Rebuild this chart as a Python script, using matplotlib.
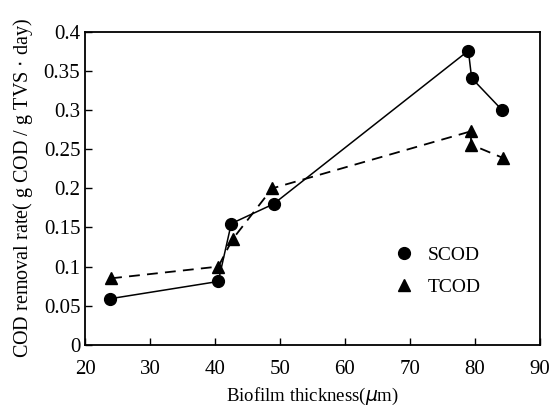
import matplotlib
matplotlib.use('Agg')
import matplotlib.pyplot as plt
from matplotlib.lines import Line2D

plt.rcParams['font.family'] = ['Liberation Serif', 'DejaVu Serif']

# SCOD series
scod_x = [23.9, 40.5, 42.5, 49.0, 79.0, 79.5, 84.2]
scod_y = [0.059, 0.081, 0.155, 0.180, 0.376, 0.341, 0.300]

# TCOD series
tcod_x = [24.0, 40.5, 42.7, 48.8, 79.4, 79.4, 84.3]
tcod_y = [0.085, 0.100, 0.135, 0.200, 0.273, 0.256, 0.239]

fig = plt.figure(figsize=(5.6, 4.2), dpi=100)
ax = fig.add_axes([0.152, 0.179, 0.812, 0.745])

ax.plot(scod_x, scod_y, color='black', linewidth=1.1, marker='o', markersize=8.5)
ax.plot(tcod_x, tcod_y, color='black', linewidth=1.3, linestyle=(0, (6, 4)),
        marker='^', markersize=8.5)

ax.set_xlim(20, 90)
ax.set_ylim(0, 0.4)
ax.set_xticks([20, 30, 40, 50, 60, 70, 80, 90])
ax.set_yticks([0, 0.05, 0.1, 0.15, 0.2, 0.25, 0.3, 0.35, 0.4])
ax.set_yticklabels(['0', '0.05', '0.1', '0.15', '0.2', '0.25', '0.3', '0.35', '0.4'])
ax.tick_params(direction='in', labelsize=15, length=5, width=1)
ax.tick_params(axis='x', pad=11)
for s in ax.spines.values():
    s.set_linewidth(1.3)

ax.set_xlabel('Biofilm thickness($\\mu$m)', fontsize=13.5, labelpad=5)
ax.set_ylabel('COD removal rate( g COD / g TVS $\\cdot$ day)', fontsize=14.5, labelpad=6)

handles = [Line2D([], [], color='black', marker='o', linestyle='none', markersize=8.5),
           Line2D([], [], color='black', marker='^', linestyle='none', markersize=8.5)]
ax.legend(handles, ['SCOD', 'TCOD'], frameon=False, fontsize=14,
          loc='center left', bbox_to_anchor=(0.62, 0.235), handletextpad=0.2,
          labelspacing=0.75)

fig.savefig('out.png', dpi=100)
